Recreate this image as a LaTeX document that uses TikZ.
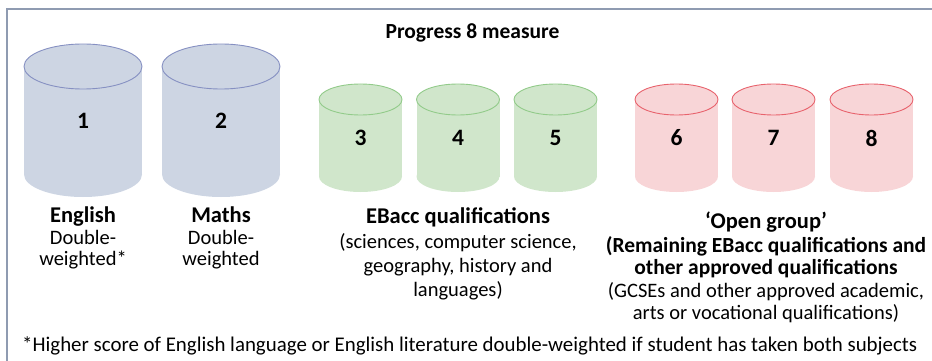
\documentclass[tikz,border=0pt]{standalone}
\usepackage{fontspec}
\setmainfont{Carlito}
\usetikzlibrary{positioning}
\definecolor{pblue}{HTML}{CDD5E3}
\definecolor{pbluedge}{HTML}{8690C2}
\definecolor{pgreen}{HTML}{D0E6CB}
\definecolor{pgreenedge}{HTML}{92CB8A}
\definecolor{pred}{HTML}{F8D5D7}
\definecolor{prededge}{HTML}{E8636D}
\definecolor{pframe}{HTML}{8F9BB1}
\tikzstyle{tank} = [rectangle, inner sep=0, outer sep=0, draw=none, font=\fontsize{23.5}{24}\selectfont\bfseries]
\tikzstyle{bigtank} = [tank, minimum width=118, minimum height=108]
\tikzstyle{smalltank} = [tank, minimum width=83, minimum height=77]
\tikzstyle{head} = [anchor=base, inner sep=0, font=\fontsize{22.5}{24}\selectfont\bfseries]
\tikzstyle{body} = [anchor=base, inner sep=0, align=center, font=\fontsize{20.5}{23}\selectfont]
\tikzstyle{boldbody} = [body, font=\fontsize{21.5}{22}\selectfont\bfseries]
\tikzstyle{rim} = [line width=0.9]

\begin{document}
\begin{tikzpicture}[x=1pt, y=-1pt]
  \useasboundingbox (0,0) rectangle (932,361);
  \draw [pframe, line width=1.5] (7,361) |- (932,9);
  \node (title) [head, font=\fontsize{21.5}{24}\selectfont\bfseries] at (472.5,39) {Progress 8 measure};
  % core subjects
  \node (c1) [bigtank, fill=pblue] at (83,120.5) {1};
  \node (c2) [bigtank, fill=pblue] at (221,120.5) {2};
  \fill [pblue] (c1.south) ellipse [x radius=59, y radius=22.5];
  \fill [pblue] (c2.south) ellipse [x radius=59, y radius=22.5];
  \filldraw [rim, fill=pblue, draw=pbluedge] (c1.north) ellipse [x radius=59, y radius=22.5];
  \filldraw [rim, fill=pblue, draw=pbluedge] (c2.north) ellipse [x radius=59, y radius=22.5];
  % EBacc
  \node (c3) [smalltank, fill=pgreen] at (360.5,138) {3};
  \node (c4) [smalltank, fill=pgreen] at (458,138) {4};
  \node (c5) [smalltank, fill=pgreen] at (555.5,138) {5};
  \fill [pgreen] (c3.south) ellipse [x radius=41.5, y radius=15.5];
  \fill [pgreen] (c4.south) ellipse [x radius=41.5, y radius=15.5];
  \fill [pgreen] (c5.south) ellipse [x radius=41.5, y radius=15.5];
  \filldraw [rim, fill=pgreen, draw=pgreenedge] (c3.north) ellipse [x radius=41.5, y radius=15.5];
  \filldraw [rim, fill=pgreen, draw=pgreenedge] (c4.north) ellipse [x radius=41.5, y radius=15.5];
  \filldraw [rim, fill=pgreen, draw=pgreenedge] (c5.north) ellipse [x radius=41.5, y radius=15.5];
  % open group
  \node (c6) [smalltank, fill=pred] at (676.5,138) {6};
  \node (c7) [smalltank, fill=pred] at (773.5,138) {7};
  \node (c8) [smalltank, fill=pred] at (871.5,138) {8};
  \fill [pred] (c6.south) ellipse [x radius=41.5, y radius=15.5];
  \fill [pred] (c7.south) ellipse [x radius=41.5, y radius=15.5];
  \fill [pred] (c8.south) ellipse [x radius=41.5, y radius=15.5];
  \filldraw [rim, fill=pred, draw=prededge] (c6.north) ellipse [x radius=41.5, y radius=15.5];
  \filldraw [rim, fill=pred, draw=prededge] (c7.north) ellipse [x radius=41.5, y radius=15.5];
  \filldraw [rim, fill=pred, draw=prededge] (c8.north) ellipse [x radius=41.5, y radius=15.5];
  % labels
  \node (eng) [head] at (83,222) {English};
  \node (engtxt) [body, font=\fontsize{20.5}{21}\selectfont] at (83,265) {Double-\\weighted*};
  \node (maths) [head] at (221,222) {Maths};
  \node (mathstxt) [body, font=\fontsize{20.5}{21}\selectfont] at (221,265) {Double-\\weighted};
  \node (ebacc) [head] at (458,223) {EBacc qualifications};
  \node (ebacctxt) [body, font=\fontsize{20.5}{24}\selectfont] at (458,296) {(sciences, computer science,\\geography, history and\\languages)};
  \node (open) [head] at (766,228) {‘Open group’};
  \node (opentxt) [boldbody] at (766,274) {(Remaining EBacc qualifications and\\other approved qualifications};
  \node (openmore) [body, font=\fontsize{20.5}{22}\selectfont] at (766,319) {(GCSEs and other approved academic,\\arts or vocational qualifications)};
  \node (note) [anchor=base west, inner sep=0, font=\fontsize{20.9}{22}\selectfont] at (22,351) {*Higher score of English language or English literature double-weighted if student has taken both subjects};
\end{tikzpicture}
\end{document}
